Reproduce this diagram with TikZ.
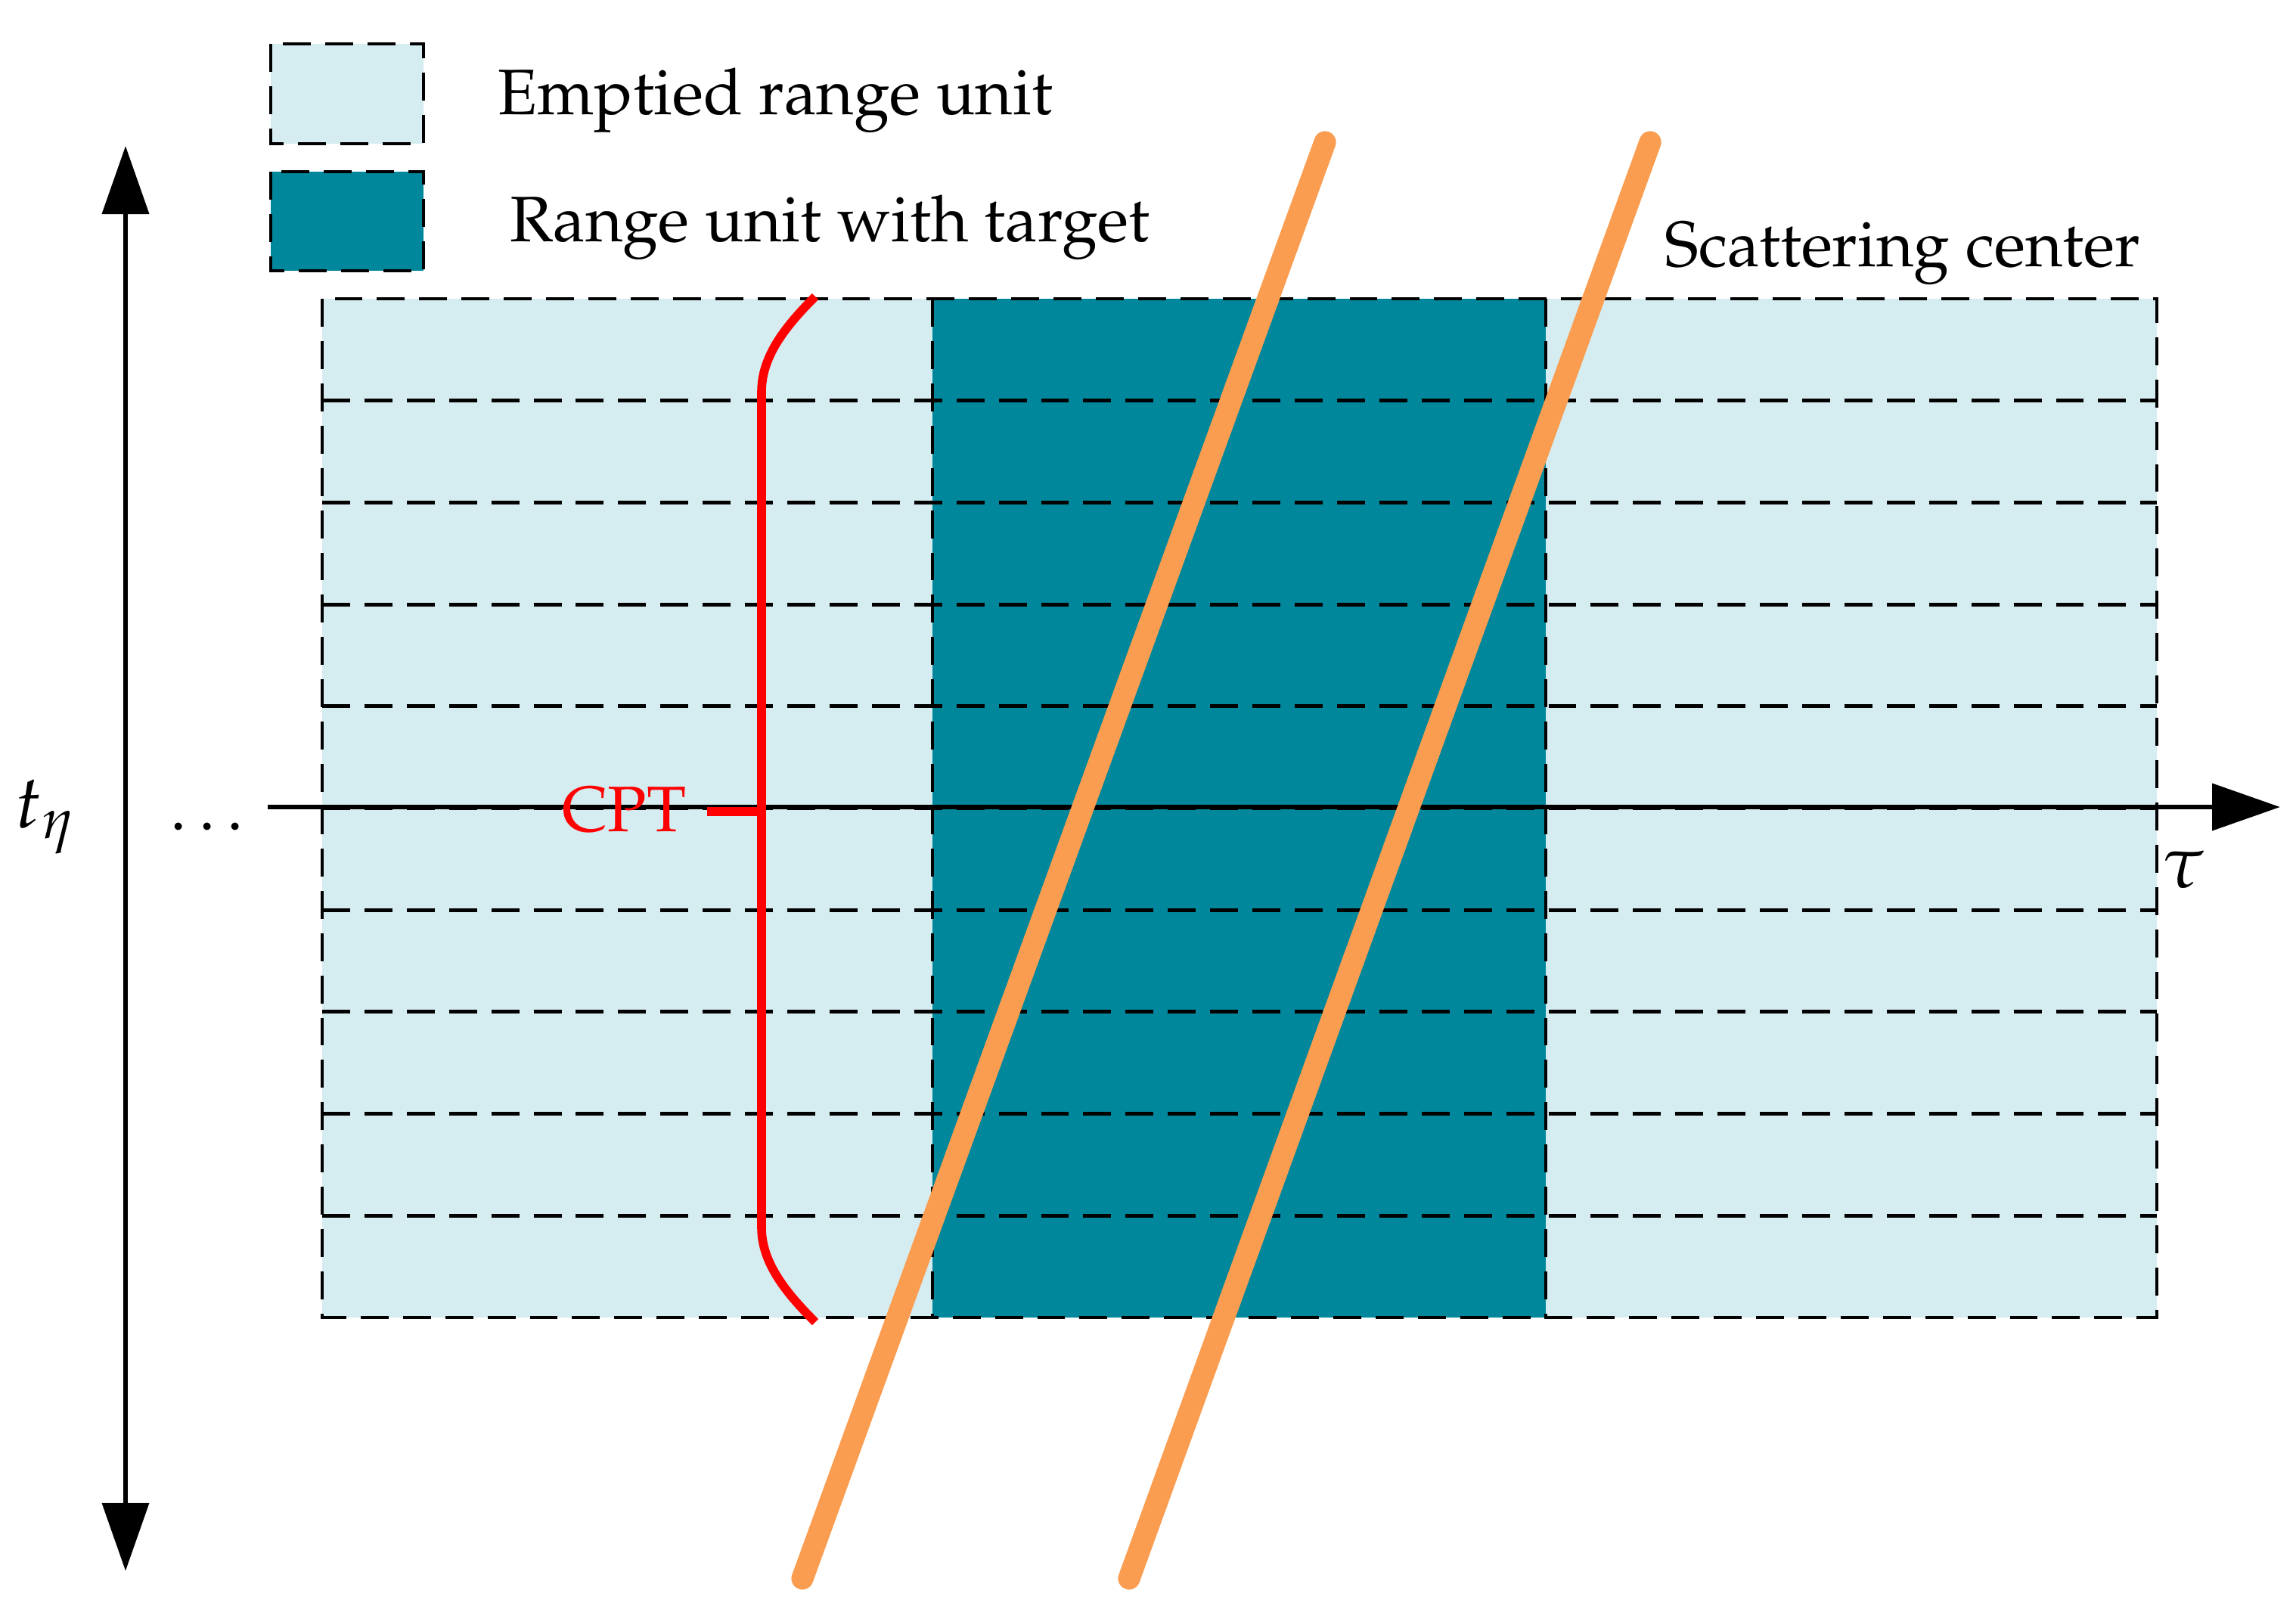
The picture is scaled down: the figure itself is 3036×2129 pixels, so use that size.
\documentclass[tikz,border=0pt]{standalone}
\usepackage[T1]{fontenc}
\usepackage{mathpazo}
\usetikzlibrary{arrows.meta}
\definecolor{lightc}{RGB}{213,236,241}
\definecolor{darkc}{RGB}{0,135,155}
\definecolor{orangec}{RGB}{250,157,80}
\definecolor{redc}{RGB}{255,0,0}
\tikzset{
  gridline/.style={draw=black, line width=1.4pt, dash pattern=on 10.5pt off 5.4pt},
  axisline/.style={draw=black, line width=1.9pt},
  bigtip/.tip={Triangle[length=25.6pt,width=17.4pt]},
  scatline/.style={draw=orangec, line width=8.3pt, line cap=round},
  bracketline/.style={draw=redc, line width=3.3pt},
  lbl/.style={inner sep=0pt, font=\fontsize{24.2}{29}\selectfont},
  mathlbl/.style={inner sep=0pt, font=\fontsize{28}{34}\selectfont},
}
\begin{document}
\begin{tikzpicture}[x=0.01cm,y=-0.01cm]
\useasboundingbox (0,0) rectangle (3036,2129);
% legend
\fill[lightc] (358,58) rectangle (560,190);
\draw[gridline] (358,58) rectangle (560,190);
\node[lbl, anchor=base west] (leg1) at (658,151) {Emptied range unit};
\fill[darkc] (358,227) rectangle (560,358);
\draw[gridline] (358,227) rectangle (560,358);
\node[lbl, anchor=base west] (leg2) at (674,319) {Range unit with target};
% grid
\fill[lightc] (426,395) rectangle (2852,1742);
\fill[darkc] (1233,395) rectangle (2044,1742);
\foreach \i in {1,...,9} {
  \draw[gridline] (426,{395+134.7*\i}) -- (2852,{395+134.7*\i});
}
\draw[gridline] (1233,395) -- (1233,1742);
\draw[gridline] (2044,395) -- (2044,1742);
\draw[gridline] (426,395) rectangle (2852,1742);
% axes
\coordinate (hs) at (354,1067);
\coordinate (he) at (3015,1067);
\draw[axisline, -bigtip] (hs) -- (he);
\coordinate (vt) at (166,193);
\coordinate (vb) at (166,2077);
\draw[axisline, bigtip-bigtip] (vt) -- (vb);
\node[mathlbl] (teta) at (60,1080) {$t_\eta$};
\node[mathlbl] (tau) at (2887,1150) {$\tau$};
\node[lbl, anchor=base] (dots) at (274,1097) {$\ldots$};
% scattering centres
\coordinate (s1a) at (1061,2087);
\coordinate (s1b) at (1752,188);
\coordinate (s2a) at (1493,2087);
\coordinate (s2b) at (2182,188);
\draw[scatline] (s1a) -- (s1b);
\draw[scatline] (s2a) -- (s2b);
\node[lbl, anchor=base west] (scat) at (2201,352) {Scattering center};
% CPT bracket
\draw[bracketline] (1078,392) .. controls (1040,430) and (1007,470) .. (1007,518) -- (1007,1623) .. controls (1007,1670) and (1040,1710) .. (1078,1748);
\coordinate (tickr) at (1007,1073);
\coordinate (tickl) at (935,1073);
\draw[draw=redc, line width=3.3pt] (tickl) -- (tickr);
\node[lbl, text=redc, anchor=east] (cpt) at (908,1071) {CPT};
\end{tikzpicture}
\end{document}
